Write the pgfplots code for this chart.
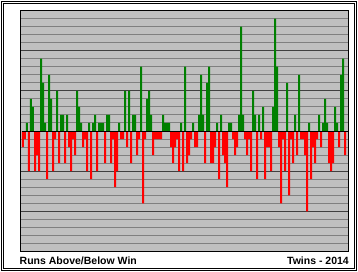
\documentclass[border=0pt]{standalone}
\usepackage{pgfplots}
\usepackage{pgfplotstable}
\pgfplotsset{compat=1.18}
\usepackage{fontspec}
\setmainfont{Liberation Sans}
\definecolor{win}{HTML}{008000}
\definecolor{loss}{HTML}{FF0000}
\definecolor{bg}{HTML}{C0C0C0}
\definecolor{gridlt}{HTML}{808080}
\definecolor{griddk}{HTML}{404040}
\pgfplotstableread{
k r
0 -2
1 -1
2 1
3 -5
4 4
5 3
6 -5
7 -3
8 -5
9 9
10 6
11 1
12 -6
13 7
14 4
15 -5
16 -1
17 5
18 -4
19 2
20 2
21 -4
22 2
23 -2
24 -5
25 -1
26 -3
27 5
28 3
29 1
30 -2
31 -1
32 -5
33 1
34 -6
35 1
36 2
37 -5
38 1
39 1
40 1
41 -4
42 2
43 2
44 -4
45 -1
46 -7
47 -5
48 1
49 -1
50 -1
51 5
52 -2
53 5
54 -4
55 2
56 2
57 -3
58 -1
59 8
60 -9
61 -1
62 4
63 5
64 2
65 -3
66 -1
67 -1
68 -1
69 -1
70 2
71 1
72 1
73 1
74 -2
75 -4
76 -2
77 -1
78 -5
79 1
80 -5
81 8
82 -4
83 -3
84 -1
85 1
86 -2
87 -2
88 2
89 7
90 2
91 -4
92 6
93 8
94 -4
95 -4
96 -2
97 1
98 -6
99 2
100 -3
101 -4
102 -7
103 1
104 1
105 -1
106 -3
107 -2
108 2
109 13
110 2
111 -1
112 -3
113 -1
114 -5
115 5
116 2
117 -6
118 2
119 -1
120 3
121 -6
122 -2
123 -2
124 -5
125 3
126 14
127 8
128 -2
129 -9
130 -1
131 -5
132 6
133 -8
134 -1
135 -4
136 2
137 -3
138 7
139 -1
140 -1
141 -3
142 -10
143 1
144 -6
145 -2
146 -4
147 -1
148 2
149 -2
150 1
151 4
152 1
153 -4
154 -5
155 -4
156 3
157 1
158 -2
159 7
160 9
161 -3
}\gamedata
\begin{document}
\begin{tikzpicture}
\useasboundingbox (0pt,0pt) rectangle (358pt,271pt);
\fill[white] (0pt,0pt) rectangle (358pt,271pt);
\draw[line width=1pt] (1.5pt,0.5pt) rectangle (356.5pt,269.5pt);
\draw[line width=1pt] (3.5pt,2.5pt) rectangle (354.5pt,267.5pt);
\begin{axis}[
  at={(20.5pt,19.5pt)}, anchor=south west,
  width=328pt, height=241pt, scale only axis,
  xmin=-1.25, xmax=162.75, ymin=-15, ymax=15,
  axis background/.style={fill=bg},
  axis line style={black, line width=1pt},
  xtick=\empty,
  ytick={-10,-5,5,10},
  minor ytick={-14,-13,-12,-11,-9,-8,-7,-6,-4,-3,-2,-1,1,2,3,4,6,7,8,9,11,12,13,14},
  yticklabels={},
  major tick length=0pt, minor tick length=0pt,
  ymajorgrids, yminorgrids,
  major grid style={griddk, line width=1pt},
  minor grid style={gridlt, line width=1pt},
  clip=true,
]
\addplot[ybar, bar width=1, bar shift=0pt, fill=win, draw=none,
  restrict y to domain=0:20] table[x=k, y=r] {\gamedata};
\addplot[ybar, bar width=1, bar shift=0pt, fill=loss, draw=none,
  restrict y to domain=-20:0] table[x=k, y=r] {\gamedata};
\addplot[black, line width=1pt, mark=none] coordinates {(-0.5,0) (162.75,0)};
\end{axis}
\node[anchor=base west, inner sep=0pt, font=\fontsize{10.5}{12}\selectfont\bfseries] at (19.5pt,6.5pt) {Runs Above/Below Win};
\node[anchor=base east, inner sep=0pt, font=\fontsize{10.5}{12}\selectfont\bfseries] at (349pt,6.5pt) {Twins - 2014};
\end{tikzpicture}
\end{document}
